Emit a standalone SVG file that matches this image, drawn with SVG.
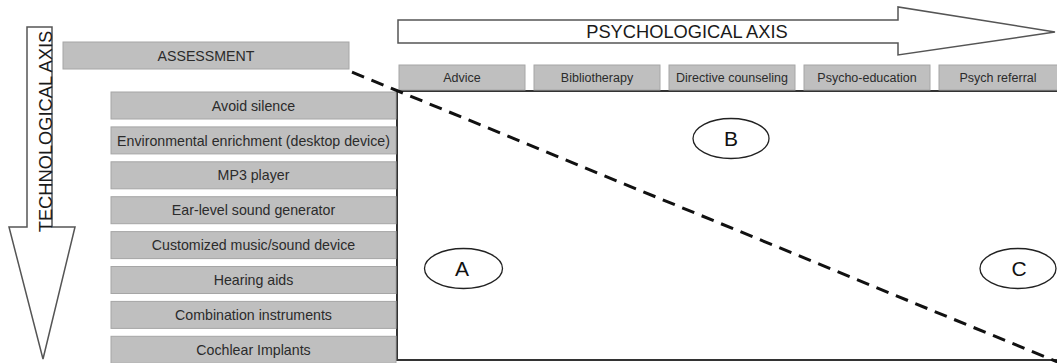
<svg xmlns="http://www.w3.org/2000/svg" width="1057" height="363" viewBox="0 0 1057 363">
<style>
.box{fill:#bfbfbf;stroke:#a6a6a6;stroke-width:1}
.lbl{font-family:"Liberation Sans",Arial,sans-serif;font-size:14.2px;fill:#2b2b2b;text-anchor:middle}
.tlbl{font-family:"Liberation Sans",Arial,sans-serif;font-size:12.5px;fill:#2b2b2b;text-anchor:middle}
.axis{fill:#ffffff;stroke:#555555;stroke-width:1.5;stroke-linejoin:miter}
.axt{font-family:"Liberation Sans",Arial,sans-serif;font-size:18.3px;fill:#1a1a1a;text-anchor:middle}
.ell{fill:#ffffff;stroke:#222222;stroke-width:1.3}
.let{font-family:"Liberation Sans",Arial,sans-serif;font-size:21px;fill:#111111;text-anchor:middle}
</style>
<rect width="1057" height="363" fill="#ffffff"/>
<g id="tech-axis">
<polygon class="axis" points="27,27 52,27 52,227 75,227 43,359 9,227 27,227"/>
<text class="axt" transform="translate(52,131.5) rotate(-90)">TECHNOLOGICAL AXIS</text>
</g>
<g id="psych-axis">
<polygon class="axis" points="398,20 898,20 898,7 1055,32 898,55 898,43 398,43"/>
<text class="axt" x="687" y="38">PSYCHOLOGICAL AXIS</text>
</g>
<g id="grid">
<path d="M397,91 H1060 M397,91 V360 H1060" fill="none" stroke="#333333" stroke-width="2"/>
</g>
<g id="assessment">
<rect class="box" x="63" y="42" width="286" height="27"/>
<text class="lbl" x="206" y="61">ASSESSMENT</text>
</g>
<g id="tech-1"><rect class="box" x="111" y="92" width="285" height="27"/><text class="lbl" x="253.5" y="110.6">Avoid silence</text></g>
<g id="tech-2"><rect class="box" x="111" y="126.9" width="285" height="27"/><text class="lbl" x="253.5" y="145.5">Environmental enrichment (desktop device)</text></g>
<g id="tech-3"><rect class="box" x="111" y="161.8" width="285" height="27"/><text class="lbl" x="253.5" y="180.4">MP3 player</text></g>
<g id="tech-4"><rect class="box" x="111" y="196.7" width="285" height="27"/><text class="lbl" x="253.5" y="215.3">Ear-level sound generator</text></g>
<g id="tech-5"><rect class="box" x="111" y="231.6" width="285" height="27"/><text class="lbl" x="253.5" y="250.2">Customized music/sound device</text></g>
<g id="tech-6"><rect class="box" x="111" y="266.5" width="285" height="27"/><text class="lbl" x="253.5" y="285.1">Hearing aids</text></g>
<g id="tech-7"><rect class="box" x="111" y="301.4" width="285" height="27"/><text class="lbl" x="253.5" y="320">Combination instruments</text></g>
<g id="tech-8"><rect class="box" x="111" y="336.3" width="285" height="27"/><text class="lbl" x="253.5" y="354.9">Cochlear Implants</text></g>
<g id="psych-1"><rect class="box" x="399" y="65" width="126" height="25"/><text class="tlbl" x="462" y="82">Advice</text></g>
<g id="psych-2"><rect class="box" x="534" y="65" width="126" height="25"/><text class="tlbl" x="597" y="82">Bibliotherapy</text></g>
<g id="psych-3"><rect class="box" x="669" y="65" width="126" height="25"/><text class="tlbl" x="732" y="82">Directive counseling</text></g>
<g id="psych-4"><rect class="box" x="804" y="65" width="126" height="25"/><text class="tlbl" x="867" y="82">Psycho-education</text></g>
<g id="psych-5"><rect class="box" x="939" y="65" width="126" height="25"/><text class="tlbl" x="998" y="82">Psych referral</text></g>
<g id="connectors">
<line x1="352" y1="72.1" x2="1060" y2="363" stroke="#111111" stroke-width="3" stroke-dasharray="13 8"/>
</g>
<g id="zone-A"><ellipse class="ell" cx="463.5" cy="268.5" rx="39" ry="20"/><text class="let" x="462" y="276">A</text></g>
<g id="zone-B"><ellipse class="ell" cx="731" cy="138.5" rx="38" ry="20"/><text class="let" x="731" y="146">B</text></g>
<g id="zone-C"><ellipse class="ell" cx="1018" cy="268.5" rx="38" ry="20"/><text class="let" x="1019" y="276">C</text></g>
</svg>
